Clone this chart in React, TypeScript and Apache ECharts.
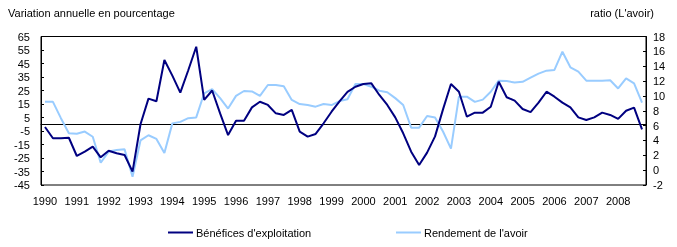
import React, { useEffect, useRef } from "react";
import * as echarts from "echarts";

const years = [1990, 1991, 1992, 1993, 1994, 1995, 1996, 1997, 1998, 1999, 2000, 2001, 2002, 2003, 2004, 2005, 2006, 2007, 2008];
const quarters = ["T1", "T2", "T3", "T4"];
const categories: string[] = [];
years.forEach((y) => quarters.forEach((q) => categories.push(`${y} ${q}`)));

const beneficesName = "Bénéfices d'exploitation";
const rendementName = "Rendement de l'avoir";

const benefices = [
  -2, -10.4, -10.4, -10, -23.5, -20.3, -16.6, -24.5,
  -19.6, -21.5, -22.8, -35.1, 0, 19, 17, 47.6,
  36, 23.4, 40, 57.4, 18, 25, 8, -8,
  2.6, 2.6, 12.5, 16.7, 14.3, 8.1, 6.9, 10.6,
  -5.5, -9.2, -7.2, 0.7, 9.3, 17, 24, 27.8,
  29.8, 30.3, 21.7, 14.3, 5.1, -6.7, -20.3, -30.2,
  -21, -9, 11, 29.8, 24.1, 5.6, 8.6, 8.6,
  13, 31.5, 20, 17.5, 11.3, 9, 16, 24.1,
  20.4, 16, 12.5, 5.1, 3.1, 5.1, 8.6, 6.9,
  4, 10, 12.3, -3.8,
];

const rendement = [
  9.2, 9.2, 7.0, 4.96, 4.9, 5.2, 4.5, 1.0,
  2.5, 2.7, 2.8, -0.9, 4.0, 4.7, 4.2, 2.3,
  6.3, 6.5, 7.0, 7.1, 10.35, 10.9, 9.7, 8.3,
  10.0, 10.66, 10.6, 10.0, 11.47, 11.47, 11.3, 9.45,
  8.9, 8.77, 8.55, 8.9, 8.77, 9.3, 9.54, 11.6,
  11.6, 11.24, 10.7, 10.5, 9.7, 8.77, 5.72, 5.72,
  7.29, 7.1, 5.2, 2.9, 9.9, 9.9, 9.2, 9.5,
  10.56, 12.05, 12.0, 11.8, 11.9, 12.45, 13.0, 13.4,
  13.5, 15.95, 13.85, 13.26, 12.05, 12.05, 12.05, 12.1,
  11.0, 12.37, 11.7, 9.08,
];

const leftTicks = [-45, -35, -25, -15, -5, 5, 15, 25, 35, 45, 55, 65];

const FONT = "'Liberation Sans', Arial, sans-serif";
const DARK = "#000080";
const LIGHT = "#99CCFF";

export default function App() {
  const ref = useRef<HTMLDivElement>(null);
  useEffect(() => {
    if (!ref.current) return;
    const chart = echarts.init(ref.current, null, { renderer: "svg" });
    const labelStyle = { color: "#000", fontFamily: FONT, fontSize: 11 };
    chart.setOption({
      animation: false,
      grid: { left: 41, right: 31, top: 36.5, bottom: 62, show: true, borderColor: "#000", borderWidth: 1 },
      graphic: [
        { type: "text", left: 8, top: 7, style: { text: "Variation annuelle en pourcentage", font: `11px ${FONT}`, fill: "#000" } },
        { type: "text", right: 23, top: 7, style: { text: "ratio (L'avoir)", font: `11px ${FONT}`, fill: "#000" } },
      ],
      legend: [
        {
          data: [beneficesName], left: 163, top: 222, itemWidth: 25, itemHeight: 2, icon: "rect", itemGap: 5,
          textStyle: { ...labelStyle, padding: [0, 0, 0, -2] },
        },
        {
          data: [rendementName], left: 391, top: 222, itemWidth: 25, itemHeight: 2, icon: "rect", itemGap: 5,
          textStyle: { ...labelStyle, padding: [0, 0, 0, -2] },
        },
      ],
      xAxis: {
        type: "category",
        data: categories,
        boundaryGap: true,
        axisLine: { lineStyle: { color: "#000", width: 1 } },
        axisTick: { inside: true, length: 3, interval: 0, lineStyle: { color: "#000" } },
        axisLabel: { ...labelStyle, interval: 3, margin: 10, formatter: (v: string) => v.slice(0, 4) },
        splitLine: { show: false },
      },
      yAxis: [
        {
          type: "value",
          min: -45,
          max: 65,
          axisLine: { show: true, lineStyle: { color: "#000" } },
          axisTick: { show: true, inside: true, length: 3, customValues: leftTicks, lineStyle: { color: "#000" } },
          axisLabel: { ...labelStyle, margin: 11, customValues: leftTicks },
          splitLine: { show: false },
        },
        {
          type: "value",
          min: -2,
          max: 18,
          interval: 2,
          position: "right",
          axisLine: { show: true, lineStyle: { color: "#000" } },
          axisTick: { show: true, inside: true, length: 3, lineStyle: { color: "#000" } },
          axisLabel: { ...labelStyle, margin: 7 },
          splitLine: { show: false },
        },
      ],
      series: [
        {
          name: rendementName, type: "line", yAxisIndex: 1, data: rendement, symbol: "none",
          lineStyle: { color: LIGHT, width: 2 }, itemStyle: { color: LIGHT },
        },
        {
          name: beneficesName, type: "line", yAxisIndex: 0, data: benefices, symbol: "none",
          lineStyle: { color: DARK, width: 2 }, itemStyle: { color: DARK },
        },
      ],
    });
    return () => chart.dispose();
  }, []);
  return <div ref={ref} style={{ position: "fixed", left: 0, top: 0, width: 677, height: 247 }} />;
}
